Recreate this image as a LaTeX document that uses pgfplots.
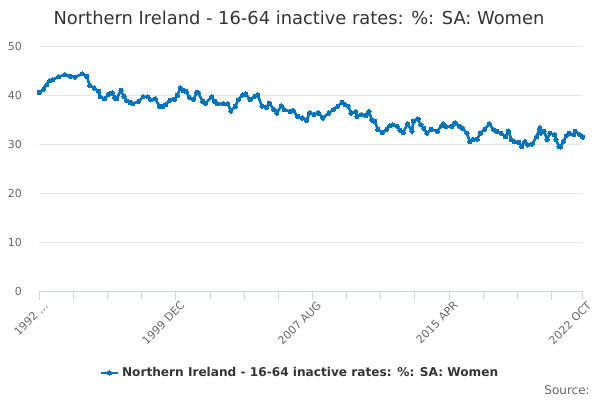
\documentclass[border=0pt]{standalone}
\usepackage{pgfplots}
\pgfplotsset{compat=1.18}
\usepackage{fontspec}
\setmainfont{DejaVu Sans}
\definecolor{series}{RGB}{0,117,190}
\definecolor{titlegray}{RGB}{51,51,51}
\definecolor{labelgray}{RGB}{102,102,102}
\definecolor{axisblue}{RGB}{204,214,235}
\definecolor{gridgray}{RGB}{230,230,230}

\begin{document}
\begin{tikzpicture}[x=0.75pt,y=0.75pt]
\useasboundingbox (0,0) rectangle (600,400);
\begin{axis}[
    at={(29.475pt,81.225pt)}, anchor=south west,
    scale only axis,
    width=407.55pt, height=184.05pt,
    xmin=0, xmax=366,
    ymin=0, ymax=50,
    axis x line=bottom,
    axis y line=left,
    x axis line style={-, draw=axisblue},
    y axis line style={draw=none},
    xtick={0,92,184,276,366},
    xticklabels={1992 …,1999 DEC,2007 AUG,2015 APR,2022 OCT},
    minor xtick={23,46,69,115,138,161,207,230,253,299,322,345},
    tick align=outside,
    major tick length=6.5pt,
    minor tick length=6.5pt,
    xtick style={draw=axisblue, line width=0.75pt},
    minor x tick style={draw=axisblue, line width=0.75pt},
    ytick={0,10,20,30,40,50},
    ytick style={draw=none},
    ymajorgrids=true,
    grid style={draw=gridgray, line width=0.75pt},
    /pgf/number format/assume math mode=true,
    tick label style={font=\fontsize{8.25}{10}\selectfont, text=labelgray},
    x tick label style={rotate=45, anchor=north east, inner sep=0pt, yshift=-2pt, xshift=2pt},
    y tick label style={anchor=east, xshift=-3pt},
    legend style={at={(0.48,-0.331)}, anchor=center, draw=none, fill=none,
        font=\fontsize{9.1}{11}\selectfont\bfseries, text=titlegray},
    legend image code/.code={
        \draw[#1, mark repeat=2, mark phase=2] plot coordinates {(0pt,0pt) (6.5pt,0pt) (13pt,0pt)};},
]
\addplot[color=series, line width=2pt, mark=*, mark size=1.6pt,
    mark options={line width=0pt}]
coordinates {
(0,40.6)(3,41.3)(5,42.2)(7,43.0)(9,43.2)(13,43.8)(17,44.2)(21,43.9)(24,43.7)(29,44.4)
(32,43.9)(34,42.0)(37,41.5)(40,40.8)(41,39.7)(44,39.3)(47,40.3)(49,40.5)(51,39.5)(52,39.3)
(55,41.0)(57,39.8)(59,38.9)(61,38.6)(63,38.3)(67,38.8)(70,39.7)(73,39.7)(75,39.1)(78,39.3)
(81,37.8)(83,37.7)(85,38.1)(88,39.0)(91,39.2)(93,40.0)(95,41.5)(97,41.0)(99,40.8)(101,39.6)
(104,39.2)(106,40.6)(107,40.5)(110,38.8)(112,38.4)(116,39.7)(118,38.8)(120,38.3)(124,38.3)(127,38.3)
(129,36.8)(132,37.8)(134,39.1)(137,40.1)(139,40.3)(142,39.1)(145,39.8)(147,40.1)(150,37.8)(153,37.6)
(155,38.4)(158,37.1)(160,36.4)(163,37.9)(165,37.1)(169,36.7)(171,36.9)(174,35.7)(177,35.4)(180,34.9)
(182,36.4)(185,36.1)(188,36.4)(191,35.4)(195,36.4)(198,37.1)(201,37.8)(204,38.6)(206,38.1)(208,37.8)
(210,36.4)(213,36.7)(214,35.7)(217,36.1)(220,35.9)(222,36.7)(224,35.0)(226,34.7)(228,33.1)(231,32.4)
(234,33.1)(236,33.8)(238,34.0)(241,33.7)(243,32.9)(245,32.4)(248,34.2)(251,32.7)(252,34.7)(255,35.2)
(257,34.0)(259,33.3)(261,32.3)(264,33.1)(268,32.7)(271,33.8)(272,34.2)(274,33.6)(278,33.7)(280,34.4)
(283,33.7)(285,33.3)(288,32.3)(290,30.6)(292,31.0)(295,31.1)(297,32.3)(300,33.1)(303,34.2)(306,33.0)
(308,32.7)(311,32.3)(314,31.6)(316,32.7)(318,31.0)(320,30.6)(323,30.4)(325,29.6)(327,30.6)(329,29.9)
(332,30.1)(335,31.6)(337,33.3)(338,32.3)(340,32.7)(342,31.0)(344,32.3)(347,32.0)(348,31.0)(350,29.6)
(351,29.5)(353,30.6)(355,31.8)(357,32.3)(360,32.0)(361,32.7)(364,32.0)(366,31.5)
};
\addlegendentry{Northern Ireland - 16-64 inactive rates: \%: SA: Women}
\end{axis}
\node[text=titlegray, font=\fontsize{13.4}{15}\selectfont] at (299,382) {Northern Ireland - 16-64 inactive rates: \%: SA: Women};
\node[anchor=east, text=labelgray, font=\fontsize{9}{11}\selectfont, inner sep=0pt] at (590,10) {Source:};
\end{tikzpicture}
\end{document}
